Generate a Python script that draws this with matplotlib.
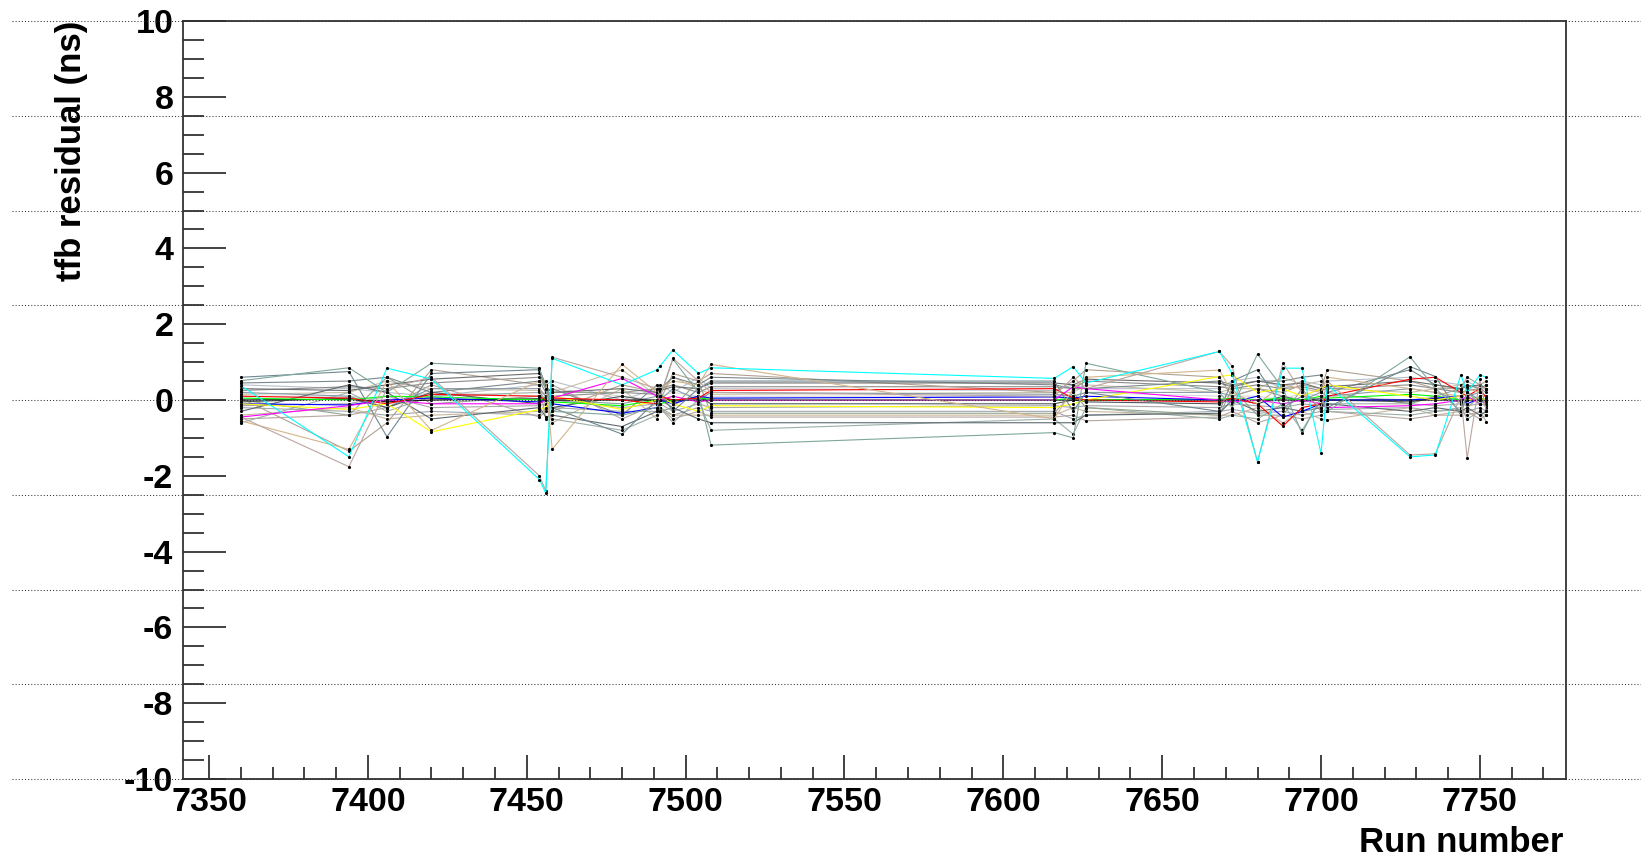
import matplotlib
matplotlib.use('Agg')
from matplotlib import pyplot as plt
from matplotlib.ticker import MultipleLocator
import matplotlib.transforms as mtransforms

plt.rcParams['font.family'] = ['Liberation Sans', 'DejaVu Sans']
plt.rcParams['font.weight'] = 'bold'
plt.rcParams['axes.unicode_minus'] = False

# run numbers (x) shared by every channel
runs = [7360, 7394, 7406, 7420, 7454, 7456, 7458, 7480, 7491, 7492,
        7496, 7504, 7508, 7616, 7622, 7626, 7668, 7672, 7680, 7688,
        7694, 7700, 7702, 7728, 7736, 7744, 7746, 7750, 7752]

# tfb residuals (ns) per channel
cyan = [0.38, -1.50, 0.84, 0.55, -2.10, -2.46, 1.10, 0.40, 0.80, 0.90, 1.32, 0.70, 0.85, 0.57, 0.88, 0.45, 1.28, 0.70, -1.63, 0.84, 0.84, -1.41, 0.40, -1.50, -1.45, 0.66, 0.20, 0.66, 0.60]
rosy = [-0.45, -1.76, 0.30, 0.60, -2.00, -2.40, 1.13, 0.60, 0.30, 0.10, 1.10, 0.50, 0.20, 0.10, 0.60, 0.30, 1.28, 0.90, -1.63, 0.97, 0.20, -0.20, 0.50, -1.45, -1.42, 0.10, -1.54, 0.55, -0.30]
teal = [0.51, 0.85, 0.20, 0.97, 0.84, 0.30, -0.30, -0.40, -0.20, 0.10, 1.08, 0.20, -1.19, -0.86, -1.00, 0.97, 0.20, -0.20, 1.21, 0.30, -0.88, 0.10, -0.30, 1.14, 0.30, -0.30, 0.20, -0.10, 0.00]
tan = [-0.55, -1.30, 0.50, -0.80, 0.50, 0.50, -1.30, 0.94, 0.20, 0.30, 0.50, 0.40, 0.94, -0.50, 0.30, 0.60, 0.79, 0.20, -0.10, 0.40, 0.30, 0.20, 0.60, 0.30, 0.20, 0.10, 0.30, 0.20, 0.40]
slate = [0.60, 0.75, -0.97, 0.70, 0.80, 0.40, -0.20, -0.90, 0.00, 0.20, -0.30, 0.30, 0.50, 0.50, -0.30, 0.20, -0.30, 0.50, 0.80, -0.20, 0.10, 0.00, -0.20, 0.88, 0.62, -0.40, 0.20, 0.00, -0.10]
yellow = [-0.10, -0.25, -0.10, -0.84, -0.25, -0.20, 0.10, -0.25, 0.00, 0.10, -0.10, -0.30, -0.15, -0.20, -0.10, 0.00, 0.62, 0.66, 0.20, 0.30, 0.10, 0.30, 0.40, 0.10, 0.00, 0.10, 0.00, 0.05, 0.00]
red = [0.10, 0.05, -0.10, 0.15, 0.10, 0.00, 0.05, 0.00, -0.10, 0.10, 0.00, 0.05, 0.25, 0.30, 0.05, 0.00, -0.05, 0.05, -0.10, -0.69, -0.20, -0.10, 0.10, 0.55, 0.60, 0.20, 0.10, 0.30, 0.05]
green = [0.05, 0.00, 0.10, 0.08, 0.00, 0.05, -0.05, -0.15, 0.00, -0.10, 0.00, 0.05, 0.02, 0.00, 0.05, 0.00, 0.02, 0.05, 0.00, 0.05, 0.00, 0.10, 0.05, 0.15, 0.10, 0.00, 0.00, 0.05, 0.00]
blue = [-0.10, -0.13, 0.00, 0.05, -0.05, 0.00, -0.10, -0.35, -0.20, 0.00, -0.10, 0.10, 0.05, 0.08, 0.05, 0.10, 0.00, -0.05, 0.10, -0.45, -0.30, -0.10, 0.00, 0.00, 0.05, 0.10, -0.10, 0.05, 0.00]
magenta = [-0.45, -0.15, 0.00, -0.10, -0.10, 0.00, 0.05, 0.57, 0.10, 0.00, 0.10, -0.05, 0.00, 0.00, 0.35, 0.30, 0.00, -0.05, 0.00, -0.10, 0.00, -0.10, -0.20, -0.15, -0.10, 0.00, 0.10, -0.10, 0.00]
black = [0.00, 0.02, -0.05, 0.00, 0.03, 0.00, 0.00, 0.00, 0.00, 0.00, 0.00, 0.00, 0.00, 0.00, 0.00, 0.00, 0.00, 0.00, 0.00, 0.00, 0.00, 0.00, 0.00, 0.00, 0.00, 0.00, 0.00, 0.00, 0.00]
g1 = [0.25, 0.35, 0.30, 0.45, 0.60, 0.30, 0.10, 0.20, 0.15, 0.30, 0.40, 0.20, 0.35, 0.35, 0.30, 0.50, 0.35, 0.30, 0.40, 0.30, 0.35, 0.25, 0.30, 0.40, 0.30, 0.20, 0.25, 0.30, 0.20]
g2 = [-0.20, -0.30, -0.40, -0.30, -0.40, -0.20, -0.20, -0.30, -0.30, -0.20, -0.40, -0.20, -0.30, -0.30, -0.50, -0.40, -0.30, -0.25, -0.35, -0.30, -0.40, -0.30, -0.25, -0.20, -0.30, -0.25, -0.30, -0.20, -0.30]
g3 = [0.15, 0.20, 0.50, 0.30, 0.25, 0.10, 0.20, 0.80, 0.10, 0.20, 0.60, 0.30, 0.15, 0.20, 0.20, 0.40, 0.20, 0.30, 0.30, 0.60, 0.40, 0.50, 0.30, 0.20, 0.30, 0.40, 0.30, 0.40, 0.30]
g4 = [-0.30, 0.40, 0.20, -0.50, -0.20, -0.45, -0.40, -0.70, -0.30, 0.00, -0.20, -0.50, -0.60, -0.60, -0.60, -0.40, -0.35, 0.00, -0.30, -0.20, -0.30, -0.20, -0.10, -0.30, -0.20, -0.30, -0.20, -0.40, -0.30]
g5 = [0.05, -1.35, -0.60, 0.80, 0.40, -0.50, -0.30, 0.40, 0.20, 0.00, 0.70, 0.50, 0.70, 0.20, 0.50, 0.80, 0.60, 0.10, 0.30, 0.20, 0.40, 0.30, 0.80, 0.50, 0.30, 0.30, 0.60, 0.40, 0.50]
g6 = [-0.60, 0.20, -0.30, 0.10, 0.20, 0.00, -0.50, -0.80, -0.40, -0.20, -0.60, 0.00, -0.80, -0.50, -0.90, -0.20, -0.50, -0.40, -0.50, -0.10, -0.80, 0.00, -0.30, -0.40, -0.30, -0.20, -0.50, -0.30, -0.57]
g7 = [0.10, 0.10, 0.00, 0.20, 0.10, 0.20, 0.30, 0.10, 0.00, 0.10, 0.20, 0.10, 0.10, 0.10, 0.10, 0.20, 0.10, 0.10, 0.10, 0.00, 0.20, 0.10, 0.10, 0.00, 0.10, 0.10, 0.00, 0.10, 0.10]
g8 = [0.45, 0.50, 0.60, 0.20, 0.50, 0.20, 0.30, -0.40, 0.40, 0.30, 0.60, 0.40, 0.60, 0.40, 0.30, 0.30, 0.50, 0.40, 0.50, 0.50, 0.60, 0.66, 0.20, 0.80, 0.40, 0.30, 0.40, 0.30, 0.40]
g9 = [-0.40, -0.20, -0.50, -0.40, -0.30, -0.10, -0.60, 0.30, -0.50, -0.30, -0.40, -0.40, -0.40, -0.40, -0.20, -0.30, -0.40, -0.40, -0.20, -0.60, -0.30, -0.50, -0.53, -0.20, -0.40, -0.30, -0.40, -0.30, -0.40]
g10 = [0.20, 0.10, -0.20, 0.30, 0.30, 0.10, 0.00, -0.10, 0.10, 0.00, 0.30, 0.00, 0.20, 0.15, 0.10, 0.20, 0.20, 0.10, 0.30, 0.10, 0.00, 0.20, 0.10, 0.30, 0.20, 0.00, 0.10, 0.20, 0.10]
g11 = [-0.15, -0.10, 0.10, -0.20, -0.15, -0.10, 0.00, -0.20, -0.10, -0.10, -0.30, -0.10, -0.20, -0.15, -0.20, -0.15, -0.20, -0.10, -0.15, -0.20, -0.10, -0.15, -0.10, -0.10, -0.15, -0.10, -0.15, -0.10, -0.15]
g12 = [0.30, 0.25, 0.40, 0.55, 0.70, 0.35, 0.20, 0.30, 0.20, 0.25, 0.35, 0.30, 0.45, 0.45, 0.40, 0.55, 0.45, 0.35, 0.50, 0.40, 0.45, 0.30, 0.35, 0.50, 0.40, 0.30, 0.35, 0.40, 0.30]
g13 = [-0.50, -0.40, -0.20, 0.40, -0.45, -0.30, 0.40, -0.50, -0.10, -0.20, -0.50, -0.30, -0.45, -0.45, -0.40, -0.55, -0.45, -0.30, -0.60, -0.40, -0.50, -0.40, -0.30, -0.50, -0.40, -0.40, -0.30, -0.50, -0.40]
g14 = [0.00, -0.40, 0.60, -0.10, 0.10, -0.10, 0.20, 0.20, 0.30, -0.30, -0.20, 0.50, -0.35, -0.35, 0.20, -0.20, -0.40, 0.30, -0.40, -0.40, 0.30, -0.30, 0.20, -0.10, 0.10, 0.30, -0.20, 0.10, -0.20]
g15 = [0.40, 0.30, 0.20, 0.10, 0.40, 0.40, 0.50, 0.00, 0.30, 0.40, 0.20, 0.60, 0.30, 0.25, 0.40, 0.30, 0.30, 0.50, 0.60, 0.30, 0.50, 0.40, 0.50, 0.60, 0.50, 0.40, 0.50, 0.30, 0.30]
g16 = [-0.05, 0.05, -0.20, 0.20, -0.10, 0.10, -0.20, 0.10, -0.05, 0.10, -0.05, 0.10, -0.10, -0.10, 0.00, -0.05, -0.10, 0.05, -0.10, 0.10, -0.05, 0.05, 0.00, -0.05, 0.05, -0.05, 0.05, 0.00, -0.05]

channels = [
    (g2, '#a0a8b0'), (g7, '#d8d8d8'), (g11, '#a8a8a8'), (g15, '#b8c0cc'),
    (g3, '#c7c0a8'), (g9, '#c9b79c'), (g13, '#b7a6a0'), (g1, '#8c8c8c'),
    (g6, '#9bb0a8'), (g10, '#8a9aa8'), (g14, '#93a38f'), (g5, '#b0a090'),
    (g8, '#7b8a8e'), (g12, '#6d6d6d'), (g4, '#5f6b70'), (g16, '#505a5e'),
    (black, 'black'), (green, '#00ff00'), (blue, '#0000ff'), (yellow, '#ffff00'),
    (magenta, '#ff00ff'), (red, '#ff0000'), (slate, '#6f8891'), (tan, '#d4b48a'),
    (teal, '#7fa89a'), (rosy, '#bba59f'), (cyan, '#00ffff'),
]

fig = plt.figure(figsize=(16.41, 8.56), dpi=100)
ax = fig.add_axes([183 / 1641, 77 / 856, 1383 / 1641, 758 / 856])

for vals, col in channels:
    ax.plot(runs, vals, '-', color=col, lw=0.8, marker='.', ms=2.5,
            mfc='black', mec='black', zorder=2)

ax.set_xlim(7341.8, 7777.1)
ax.set_ylim(-10, 10)

ax.xaxis.set_major_locator(MultipleLocator(50))
ax.xaxis.set_minor_locator(MultipleLocator(10))
ax.yaxis.set_major_locator(MultipleLocator(2))
ax.yaxis.set_minor_locator(MultipleLocator(0.5))
ax.tick_params(axis='both', which='both', direction='in', top=False, right=False,
               width=1.3, color='#333333', labelsize=24.5)
ax.tick_params(axis='y', which='major', length=31, pad=7)
ax.tick_params(axis='y', which='minor', length=15)
ax.tick_params(axis='x', which='major', length=17, pad=6)
ax.tick_params(axis='x', which='minor', length=9)
for sp in ax.spines.values():
    sp.set_linewidth(1.3)
    sp.set_color('#333333')

# dotted grid running across the whole canvas width
trans = mtransforms.blended_transform_factory(fig.transFigure, ax.transData)
gy = [10, 7.5, 5, 2.5, 0, -2.5, -5, -7.5, -10]
for y in gy:
    ax.plot([12 / 1641, 1.0], [y, y], transform=trans, color='#333333',
            lw=0.75, ls=(0, (1, 2)), clip_on=False, zorder=5)

fig.text(72 / 1641, 1 - 21 / 856, 'tfb residual (ns)', rotation=90,
         ha='center', va='top', fontsize=25, fontweight='bold')
fig.text(1563 / 1641, 1 - 852 / 856, 'Run number', ha='right',
         va='baseline', fontsize=25, fontweight='bold')

fig.savefig('out.png', dpi=100)
